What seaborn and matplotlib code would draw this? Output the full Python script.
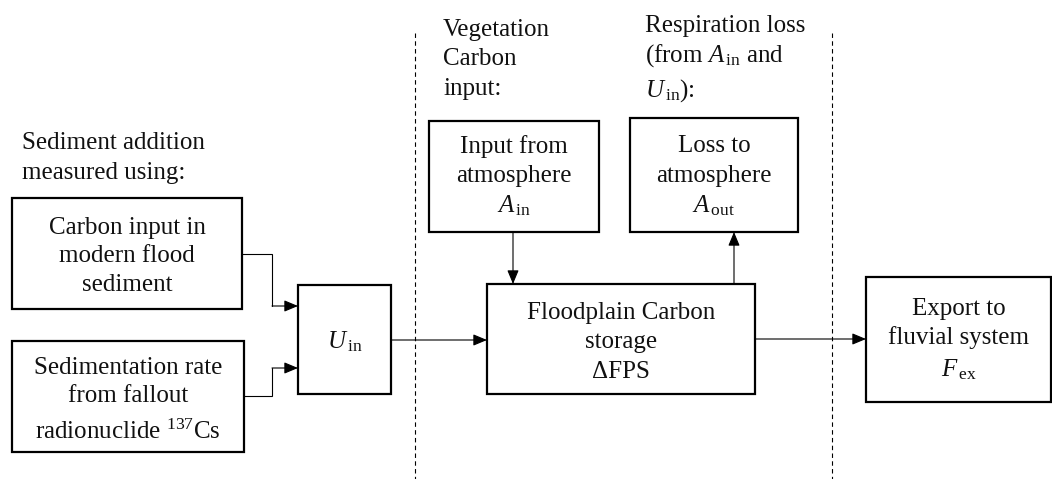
import matplotlib
matplotlib.use("Agg")
import matplotlib.pyplot as plt
import seaborn as sns
from matplotlib.patches import Rectangle

sns.set_theme(style="white")
plt.rcParams['font.family'] = ['Liberation Serif', 'DejaVu Serif']
plt.rcParams['mathtext.fontset'] = 'custom'
plt.rcParams['mathtext.rm'] = 'Liberation Serif'
plt.rcParams['mathtext.it'] = 'Liberation Serif:italic'

# ---- content ----
box_names = ["flood", "cs", "uin", "ain", "aout", "fps", "fex"]
box_lines = [
    ["Carbon input in", "modern flood", "sediment"],
    ["Sedimentation rate", "from fallout", r"radionuclide $^{137}$Cs"],
    [r"$U_{\,\mathrm{in}}$"],
    ["Input from", "atmosphere", r"$A_{\,\mathrm{in}}$"],
    ["Loss to", "atmosphere", r"$A_{\,\mathrm{out}}$"],
    ["Floodplain Carbon", "storage", "ΔFPS"],
    ["Export to", "fluvial system", r"$F_{\,\mathrm{ex}}$"],
]
header_lines = [
    ["Sediment addition", "measured using:"],
    ["Vegetation", "Carbon", "input:"],
    ["Respiration loss", r"(from $A_{\,\mathrm{in}}$ and", r"$U_{\,\mathrm{in}}$):"],
]

# ---- layout (pixels) ----
W, H = 1052, 479
box_geom = {  # x0, y0, x1, y1
    "flood": (12, 198, 242, 309),
    "cs": (12, 341, 244, 452),
    "uin": (298, 285, 391, 394),
    "ain": (429, 121, 599, 232),
    "aout": (630, 118, 798, 232),
    "fps": (487, 284, 755, 394),
    "fex": (866, 277, 1051, 402),
}
box_baselines = {
    "flood": [234, 262, 291],
    "cs": [374, 402, 439],
    "uin": [348],
    "ain": [153, 182, 212],
    "aout": [152, 182, 212],
    "fps": [319, 348, 378],
    "fex": [315, 344, 376],
}
header_pos = [(22, [149, 179]), (443, [36, 65, 95]), (645, [32, 62, 97])]

fig = plt.figure(figsize=(W / 100, H / 100), dpi=100)
ax = fig.add_axes([0, 0, 1, 1])
ax.set_xlim(0, W)
ax.set_ylim(H, 0)
ax.axis("off")

FS = 18
for name, lines in zip(box_names, box_lines):
    x0, y0, x1, y1 = box_geom[name]
    ax.add_patch(Rectangle((x0, y0), x1 - x0, y1 - y0, fill=False,
                           lw=1.6, ec="black", zorder=3))
    cx = (x0 + x1) / 2
    for ln, yb in zip(lines, box_baselines[name]):
        ax.text(cx, yb, ln, ha="center", va="baseline", fontsize=FS, color="#111111")

for (x, ybs), lines in zip(header_pos, header_lines):
    for ln, yb in zip(lines, ybs):
        ax.text(x, yb, ln, ha="left", va="baseline", fontsize=FS, color="#111111")

# dashed separators
for xd in (415, 832):
    ax.plot([xd, xd], [33, 479], ls=(0, (4, 3)), lw=0.8, color="black")

arrow_kw = dict(arrowstyle="-|>,head_length=0.6,head_width=0.25",
                mutation_scale=14, lw=0.8, color="black",
                shrinkA=0, shrinkB=0)

def arrow(p0, p1):
    ax.annotate("", xy=p1, xytext=p0, arrowprops=arrow_kw, zorder=4)

def line(xs, ys):
    ax.plot(xs, ys, lw=0.8, color="black", solid_joinstyle="miter")

# elbow connectors into U_in
line([242, 272, 272], [254, 254, 306])
arrow((272, 306), (298, 306))
line([244, 272, 272], [396, 396, 368])
arrow((272, 368), (298, 368))
# U_in -> FPS
arrow((391, 340), (487, 340))
# A_in -> FPS
arrow((513, 232), (513, 284))
# FPS -> A_out
arrow((734, 284), (734, 232))
# FPS -> export
arrow((755, 339), (866, 339))

fig.savefig("out.png", dpi=100, facecolor="white")
